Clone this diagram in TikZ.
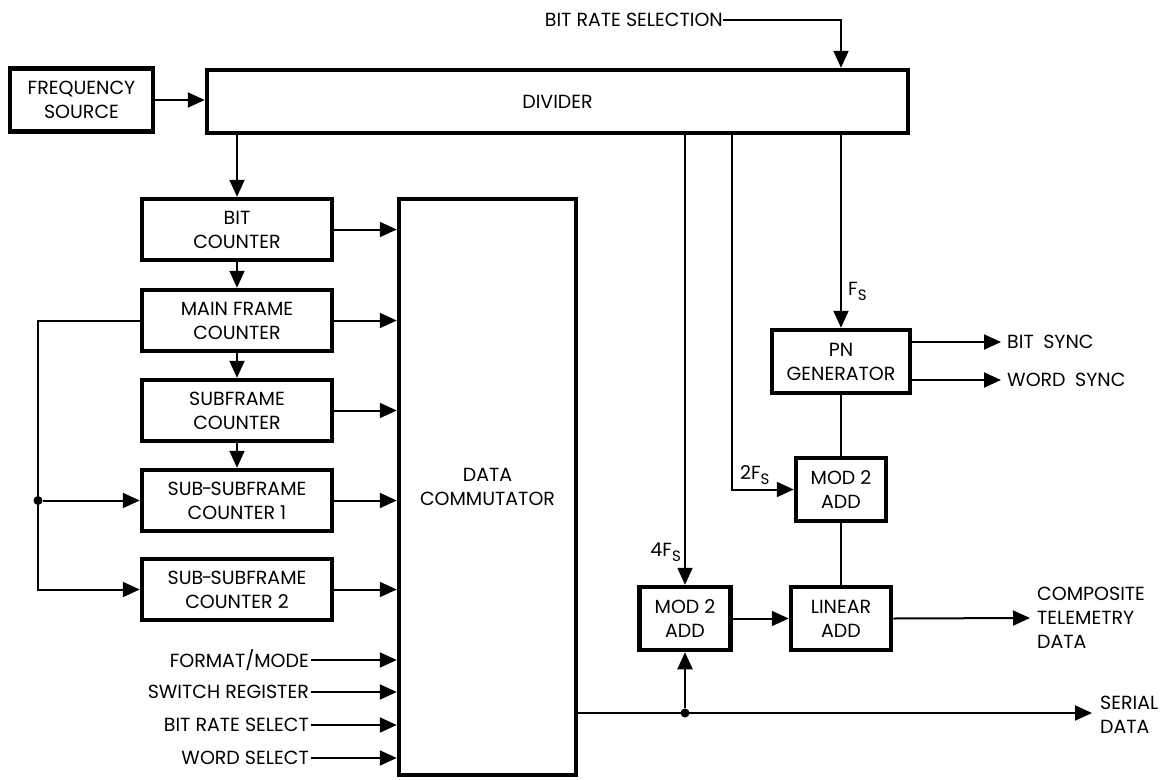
\documentclass[tikz,border=0pt]{standalone}
\usepackage{fontspec}
\setmainfont{Poppins}
\usetikzlibrary{arrows.meta,positioning}

\newcommand{\fsub}{\raisebox{-5pt}{\fontsize{15}{15}\selectfont S}}

\begin{document}
\begin{tikzpicture}[
    x=1pt, y=-1pt,
    >={Triangle[length=17pt,width=15pt]},
    every node/.style={font=\fontsize{19}{24}\selectfont},
    box/.style={draw, line width=4.5pt, minimum height=63pt, align=center, inner sep=0pt},
    cnt/.style={box, minimum width=190pt, minimum height=61pt},
    wire/.style={line width=2pt},
    lbl/.style={align=left, inner sep=0pt},
    dot/.style={circle, fill, inner sep=0pt, minimum size=9pt},
]

\useasboundingbox (0,0) rectangle (1175,779);

% Frequency source and divider
\node[box, minimum width=143pt] (freq) at (81.5,100) {FREQUENCY\\SOURCE};
\node[box, minimum width=701pt] (divider) at (557.5,101.5) {DIVIDER};
\node[lbl, anchor=east] (brsel) at (723,20) {BIT RATE SELECTION};

% Counter chain
\node[cnt] (bitcnt) at (237,229.5) {BIT\\COUNTER};
\node[cnt] (mainfr) at (237,320.5) {MAIN FRAME\\COUNTER};
\node[cnt] (subfr) at (237,410.5) {SUBFRAME\\COUNTER};
\node[cnt] (ssf1) at (237,500.5) {SUB\kern-1.5pt-\kern-1.5pt SUBFRAME\\COUNTER 1};
\node[cnt] (ssf2) at (237,589.5) {SUB\kern-1.5pt-\kern-1.5pt SUBFRAME\\COUNTER 2};

% Data commutator
\node[box, minimum width=177pt, minimum height=576pt] (commut) at (487.5,487) {DATA\\COMMUTATOR};

% Commutator inputs
\node[lbl, anchor=east] (fmt) at (309,660) {FORMAT/MODE};
\node[lbl, anchor=east] (swreg) at (309,692) {SWITCH REGISTER};
\node[lbl, anchor=east] (brs) at (309,725) {BIT RATE SELECT};
\node[lbl, anchor=east] (wsel) at (309,758) {WORD SELECT};

% Right hand chain
\node[box, minimum width=138pt] (pngen) at (841,361.5) {PN\\GENERATOR};
\node[box, minimum width=90pt] (mod2a) at (841,489.5) {MOD 2\\ADD};
\node[box, minimum width=91pt] (mod2b) at (685,618.5) {MOD 2\\ADD};
\node[box, minimum width=100pt] (linadd) at (841,618.5) {LINEAR\\ADD};

% Outputs
\node[lbl, anchor=west] (bsync) at (1007,342) {BIT\enspace SYNC};
\node[lbl, anchor=west] (wsync) at (1007,380) {WORD\enspace SYNC};
\node[lbl, anchor=west] (comp) at (1037,618) {COMPOSITE\\TELEMETRY\\DATA};
\node[lbl, anchor=west] (serial) at (1100,715) {SERIAL\\DATA};

% Rate labels
\node[lbl, anchor=west] (fs1) at (848,291) {F\fsub};
\node[lbl, anchor=west] (fs2) at (740,475) {2F\fsub};
\node[lbl, anchor=east] (fs4) at (681,552) {4F\fsub};

% Junctions
\node[dot] (busdot) at (38,500.5) {};
\node[dot] (sdot) at (685,713) {};
\coordinate (tap2) at (732,0);

% Connections
\draw[wire,->] (freq.east) -- (freq.east -| divider.west);
\draw[wire,->] (brsel.east) -| (divider.north -| pngen.north);
\draw[wire,->] (divider.south -| bitcnt.north) -- (bitcnt.north);
\draw[wire,->] (bitcnt) -- (mainfr);
\draw[wire,->] (mainfr) -- (subfr);
\draw[wire,->] (subfr) -- (ssf1);
\foreach \c in {bitcnt,mainfr,subfr,ssf1,ssf2}
    \draw[wire,->] (\c.east) -- (\c.east -| commut.west);
\draw[wire,->] (mainfr.west) -| (busdot) |- (ssf2.west);
\draw[wire,->] (busdot) -- (ssf1.west);
\foreach \n in {fmt,swreg,brs,wsel}
    \draw[wire,->] ([xshift=2pt]\n.east) -- (\n.east -| commut.west);

\draw[wire,->] (divider.south -| pngen.north) -- (pngen.north);
\draw[wire,->] (divider.south -| tap2) |- (mod2a.west);
\draw[wire,->] (divider.south -| mod2b.north) -- (mod2b.north);
\draw[wire] (pngen.south) -- (mod2a.north);
\draw[wire] (mod2a.south) -- (linadd.north);
\draw[wire,->] (mod2b.east) -- (linadd.west);
\draw[wire,->] (pngen.east |- bsync) -- ([xshift=-6pt]bsync.west);
\draw[wire,->] (pngen.east |- wsync) -- ([xshift=-6pt]wsync.west);
\draw[wire,->] (linadd.east) -- ([xshift=-7pt]comp.west);
\draw[wire,->] (commut.east |- sdot) -- ([xshift=-8pt]serial.west |- sdot);
\draw[wire,->] (sdot) -- (mod2b.south);

\end{tikzpicture}
\end{document}
